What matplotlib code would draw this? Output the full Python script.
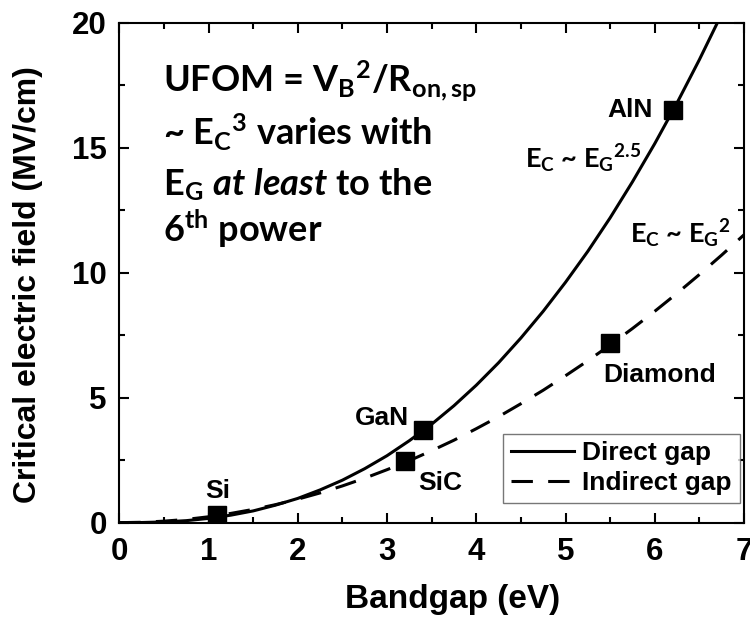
import matplotlib
matplotlib.use('Agg')
import matplotlib.pyplot as plt
from matplotlib.ticker import MultipleLocator

# data
bandgap = [0, 0.25, 0.5, 0.75, 1.0, 1.25, 1.5, 1.75, 2.0, 2.25, 2.5, 2.75, 3.0, 3.25,
           3.5, 3.75, 4.0, 4.25, 4.5, 4.75, 5.0, 5.25, 5.5, 5.75, 6.0, 6.25, 6.5, 6.75, 7.0]
direct_field = [0, 0.005, 0.03, 0.08, 0.17, 0.30, 0.47, 0.70, 0.97, 1.31, 1.70, 2.16, 2.68, 3.28,
                3.94, 4.68, 5.50, 6.40, 7.39, 8.46, 9.62, 10.86, 12.2, 13.64, 15.17, 16.8, 18.53, 20.36, 22.3]
indirect_field = [0, 0.015, 0.06, 0.13, 0.235, 0.37, 0.53, 0.72, 0.94, 1.19, 1.47, 1.78, 2.12, 2.48,
                  2.88, 3.30, 3.76, 4.24, 4.76, 5.30, 5.88, 6.48, 7.11, 7.77, 8.46, 9.18, 9.93, 10.71, 11.52]

materials = ['Si', 'GaN', 'SiC', 'Diamond', 'AlN']
mat_gap = [1.1, 3.4, 3.2, 5.5, 6.2]
mat_field = [0.3, 3.7, 2.45, 7.2, 16.5]

plt.rcParams['mathtext.fontset'] = 'custom'
plt.rcParams['mathtext.rm'] = 'Lato:bold'
plt.rcParams['mathtext.bf'] = 'Lato:bold'
plt.rcParams['mathtext.it'] = 'Lato:italic:bold'

fig = plt.figure(figsize=(7.5, 6.2), dpi=100)
ax = fig.add_axes([0.159, 0.157, 0.833, 0.806])

ax.plot(bandgap, direct_field, color='black', lw=2.2, label='Direct gap')
ax.plot(bandgap, indirect_field, color='black', lw=2.2, dashes=(7, 5), label='Indirect gap')
ax.plot(mat_gap, mat_field, 's', color='black', ms=12.5, zorder=5)

ax.set_xlim(0, 7)
ax.set_ylim(0, 20)
ax.xaxis.set_major_locator(MultipleLocator(1))
ax.xaxis.set_minor_locator(MultipleLocator(0.5))
ax.yaxis.set_major_locator(MultipleLocator(5))
ax.yaxis.set_minor_locator(MultipleLocator(2.5))
ax.tick_params(which='both', direction='in', top=True, right=True, width=1.5)
ax.tick_params(which='major', length=7, labelsize=22.5)
ax.tick_params(axis='x', which='major', pad=10)
ax.tick_params(axis='y', which='major', pad=9)
ax.tick_params(which='minor', length=4)
for lab in ax.get_xticklabels() + ax.get_yticklabels():
    lab.set_fontfamily('Liberation Sans')
    lab.set_fontweight('bold')
for s in ax.spines.values():
    s.set_linewidth(1.5)

ax.set_xlabel('Bandgap (eV)', fontsize=24, fontweight='bold', family='Liberation Sans')
ax.set_ylabel('Critical electric field (MV/cm)', fontsize=23, fontweight='bold',
              family='Liberation Sans')
ax.xaxis.set_label_coords(0.534, -0.154)
ax.xaxis.label.set_va('center')
ax.yaxis.set_label_coords(-0.146, 0.477)
ax.yaxis.label.set_va('center')

# material labels
lab_font = dict(fontsize=19, fontweight='bold', family='Liberation Sans')
ax.text(1.1, 1.25, 'Si', ha='center', va='center', **lab_font)
ax.text(3.25, 4.2, 'GaN', ha='right', va='center', **lab_font)
ax.text(3.35, 1.6, 'SiC', ha='left', va='center', **lab_font)
ax.text(5.42, 5.9, 'Diamond', ha='left', va='center', **lab_font)
ax.text(5.98, 16.5, 'AlN', ha='right', va='center', **lab_font)

# annotations
ann = dict(fontsize=26, fontweight='bold', family='Lato', ha='left', va='baseline')
ax.text(0.49, 17.24, r'UFOM = V$_\mathrm{B}$$^\mathrm{2}$/R$_\mathrm{on,sp}$', **ann)
ax.text(0.49, 15.12, r'~ E$_\mathrm{C}$$^\mathrm{3}$ varies with', **ann)
ax.text(0.49, 13.12, r'E$_\mathrm{G}$ $\mathit{at\ least}$ to the', **ann)
ax.text(0.49, 11.24, r'6$^\mathrm{th}$ power', **ann)

ann2 = dict(fontsize=19.5, fontweight='bold', family='Lato', ha='left', va='baseline')
ax.text(4.55, 14.2, r'E$_\mathrm{C}$ ~ E$_\mathrm{G}$$^\mathrm{2.5}$', **ann2)
ax.text(5.72, 11.2, r'E$_\mathrm{C}$ ~ E$_\mathrm{G}$$^\mathrm{2}$', **ann2)

leg = ax.legend(loc='lower right', bbox_to_anchor=(0.993, 0.04),
                prop={'family': 'Liberation Sans', 'weight': 'bold', 'size': 19},
                fancybox=False, handlelength=2.4, handletextpad=0.3,
                borderpad=0.3, labelspacing=0.2, borderaxespad=0)
leg.get_frame().set_edgecolor('#555555')
leg.get_frame().set_linewidth(1.0)

fig.savefig('out.png', dpi=100)
